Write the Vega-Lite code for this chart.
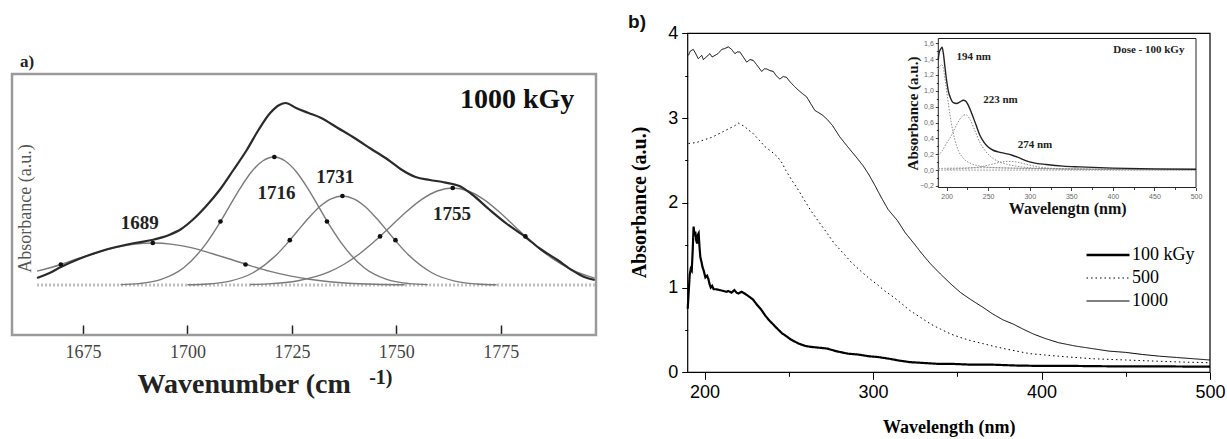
{
"$schema": "https://vega.github.io/schema/vega-lite/v6.json",
"width": 1227, "height": 439, "autosize": "none", "padding": 0, "background": "white",
"config": {"view": {"stroke": null}, "axis": {"labelFlush": false, "labelOverlap": false, "grid": false}},
"datasets": {
"a_env": [
{"wn":1664,"v":0.07},{"wn":1667,"v":0.12},{"wn":1669.7,"v":0.18},{"wn":1674,"v":0.26},{"wn":1679.4,"v":0.34},{"wn":1684,"v":0.39},{"wn":1687.4,"v":0.42},{"wn":1691.5,"v":0.45},{"wn":1695.6,"v":0.5},{"wn":1698.5,"v":0.56},{"wn":1701.2,"v":0.65},{"wn":1704.5,"v":0.79},{"wn":1707.7,"v":0.95},{"wn":1711,"v":1.15},{"wn":1714.2,"v":1.35},{"wn":1717,"v":1.55},{"wn":1719.8,"v":1.72},{"wn":1722,"v":1.8},{"wn":1723.5,"v":1.82},{"wn":1726,"v":1.77},{"wn":1729,"v":1.72},{"wn":1732,"v":1.67},{"wn":1736,"v":1.57},{"wn":1740,"v":1.47},{"wn":1744,"v":1.36},{"wn":1748.1,"v":1.25},{"wn":1751,"v":1.16},{"wn":1754.6,"v":1.08},{"wn":1758,"v":1.05},{"wn":1761.1,"v":1.03},{"wn":1763.5,"v":1.01},{"wn":1765.1,"v":0.99},{"wn":1768,"v":0.91},{"wn":1772.4,"v":0.75},{"wn":1776.5,"v":0.61},{"wn":1780.9,"v":0.48},{"wn":1784.5,"v":0.36},{"wn":1788.6,"v":0.25},{"wn":1792,"v":0.15},{"wn":1795,"v":0.08},{"wn":1797.5,"v":0.05}
],
"a_comp": [
{"comp":"1689","wn":1664,"v":0.139},{"comp":"1689","wn":1669.7,"v":0.205},{"comp":"1689","wn":1673.1,"v":0.255},{"comp":"1689","wn":1677.8,"v":0.315},{"comp":"1689","wn":1682.45,"v":0.371},{"comp":"1689","wn":1687,"v":0.406},{"comp":"1689","wn":1691.8,"v":0.42},{"comp":"1689","wn":1696.5,"v":0.406},{"comp":"1689","wn":1701.15,"v":0.371},{"comp":"1689","wn":1705.8,"v":0.315},{"comp":"1689","wn":1710.5,"v":0.255},{"comp":"1689","wn":1715,"v":0.194},{"comp":"1689","wn":1719.8,"v":0.136},{"comp":"1689","wn":1724.5,"v":0.091},{"comp":"1689","wn":1729.2,"v":0.057},{"comp":"1689","wn":1734,"v":0.033},{"comp":"1689","wn":1738.5,"v":0.018},{"comp":"1689","wn":1745,"v":0.007},{"comp":"1689","wn":1752,"v":0.002},
{"comp":"1716","wn":1684,"v":0.004},{"comp":"1716","wn":1688.3,"v":0.014},{"comp":"1716","wn":1693.7,"v":0.056},{"comp":"1716","wn":1699.1,"v":0.173},{"comp":"1716","wn":1704.5,"v":0.416},{"comp":"1716","wn":1707.2,"v":0.586},{"comp":"1716","wn":1709.9,"v":0.776},{"comp":"1716","wn":1712.6,"v":0.966},{"comp":"1716","wn":1715.3,"v":1.13},{"comp":"1716","wn":1718,"v":1.24},{"comp":"1716","wn":1720.7,"v":1.28},{"comp":"1716","wn":1723.4,"v":1.24},{"comp":"1716","wn":1726.1,"v":1.13},{"comp":"1716","wn":1728.8,"v":0.966},{"comp":"1716","wn":1731.5,"v":0.776},{"comp":"1716","wn":1734.2,"v":0.586},{"comp":"1716","wn":1736.9,"v":0.416},{"comp":"1716","wn":1742.3,"v":0.173},{"comp":"1716","wn":1747.7,"v":0.056},{"comp":"1716","wn":1753.1,"v":0.014},{"comp":"1716","wn":1757.5,"v":0.004},
{"comp":"1731","wn":1700,"v":0.002},{"comp":"1731","wn":1704.9,"v":0.01},{"comp":"1731","wn":1710.2,"v":0.039},{"comp":"1731","wn":1715.6,"v":0.12},{"comp":"1731","wn":1721,"v":0.289},{"comp":"1731","wn":1723.7,"v":0.409},{"comp":"1731","wn":1726.35,"v":0.54},{"comp":"1731","wn":1729,"v":0.67},{"comp":"1731","wn":1731.7,"v":0.785},{"comp":"1731","wn":1734.4,"v":0.862},{"comp":"1731","wn":1737.1,"v":0.89},{"comp":"1731","wn":1739.8,"v":0.862},{"comp":"1731","wn":1742.5,"v":0.785},{"comp":"1731","wn":1745.2,"v":0.67},{"comp":"1731","wn":1747.85,"v":0.54},{"comp":"1731","wn":1750.5,"v":0.409},{"comp":"1731","wn":1753.2,"v":0.289},{"comp":"1731","wn":1758.6,"v":0.12},{"comp":"1731","wn":1764,"v":0.039},{"comp":"1731","wn":1769.3,"v":0.01},{"comp":"1731","wn":1774,"v":0.002},
{"comp":"1755","wn":1715,"v":0.005},{"comp":"1755","wn":1719.1,"v":0.011},{"comp":"1755","wn":1726.5,"v":0.043},{"comp":"1755","wn":1733.9,"v":0.131},{"comp":"1755","wn":1737.6,"v":0.21},{"comp":"1755","wn":1741.3,"v":0.315},{"comp":"1755","wn":1745,"v":0.444},{"comp":"1755","wn":1748.7,"v":0.588},{"comp":"1755","wn":1752.4,"v":0.732},{"comp":"1755","wn":1756.1,"v":0.856},{"comp":"1755","wn":1759.8,"v":0.94},{"comp":"1755","wn":1763.5,"v":0.97},{"comp":"1755","wn":1767.2,"v":0.94},{"comp":"1755","wn":1770.9,"v":0.856},{"comp":"1755","wn":1774.6,"v":0.732},{"comp":"1755","wn":1778.3,"v":0.588},{"comp":"1755","wn":1782,"v":0.444},{"comp":"1755","wn":1785.7,"v":0.315},{"comp":"1755","wn":1789.4,"v":0.21},{"comp":"1755","wn":1793.1,"v":0.131},{"comp":"1755","wn":1797.5,"v":0.069}
],
"a_dots": [
{"wn":1669.7,"v":0.205},{"wn":1691.7,"v":0.42},{"wn":1713.9,"v":0.205},{"wn":1707.9,"v":0.635},{"wn":1720.8,"v":1.28},{"wn":1733.4,"v":0.635},{"wn":1724.5,"v":0.448},{"wn":1737.1,"v":0.89},{"wn":1749.8,"v":0.448},{"wn":1746.1,"v":0.486},{"wn":1763.5,"v":0.97},{"wn":1780.9,"v":0.486}
],
"a_labels": [
{"label":"1689","wn":1688.6,"v":0.62},{"label":"1716","wn":1721.3,"v":0.92},{"label":"1731","wn":1735.4,"v":1.08},{"label":"1755","wn":1763.3,"v":0.71}
],
"b_main": [
{"dose":"1000","nm":190.5,"v":3.74},{"dose":"1000","nm":191.5,"v":3.79},{"dose":"1000","nm":193.3,"v":3.81},{"dose":"1000","nm":194.5,"v":3.77},{"dose":"1000","nm":196.3,"v":3.7},{"dose":"1000","nm":198.3,"v":3.74},{"dose":"1000","nm":199.3,"v":3.69},{"dose":"1000","nm":201,"v":3.72},{"dose":"1000","nm":203.2,"v":3.76},{"dose":"1000","nm":204.5,"v":3.72},{"dose":"1000","nm":206.2,"v":3.74},{"dose":"1000","nm":208,"v":3.76},{"dose":"1000","nm":210.2,"v":3.81},{"dose":"1000","nm":212,"v":3.82},{"dose":"1000","nm":214.1,"v":3.84},{"dose":"1000","nm":216.1,"v":3.81},{"dose":"1000","nm":218,"v":3.76},{"dose":"1000","nm":219.5,"v":3.78},{"dose":"1000","nm":221,"v":3.78},{"dose":"1000","nm":223,"v":3.72},{"dose":"1000","nm":225,"v":3.66},{"dose":"1000","nm":227,"v":3.69},{"dose":"1000","nm":228.9,"v":3.68},{"dose":"1000","nm":230.9,"v":3.63},{"dose":"1000","nm":233.9,"v":3.55},{"dose":"1000","nm":235.5,"v":3.58},{"dose":"1000","nm":236.9,"v":3.58},{"dose":"1000","nm":238.8,"v":3.56},{"dose":"1000","nm":240.8,"v":3.55},{"dose":"1000","nm":242.5,"v":3.5},{"dose":"1000","nm":244.7,"v":3.46},{"dose":"1000","nm":246.7,"v":3.49},{"dose":"1000","nm":248.7,"v":3.48},{"dose":"1000","nm":250.2,"v":3.44},{"dose":"1000","nm":251.6,"v":3.41},{"dose":"1000","nm":253.5,"v":3.37},{"dose":"1000","nm":255.6,"v":3.33},{"dose":"1000","nm":258,"v":3.29},{"dose":"1000","nm":260.6,"v":3.25},{"dose":"1000","nm":263,"v":3.17},{"dose":"1000","nm":265.5,"v":3.09},{"dose":"1000","nm":268,"v":3.06},{"dose":"1000","nm":270.3,"v":3.03},{"dose":"1000","nm":273,"v":2.98},{"dose":"1000","nm":276,"v":2.91},{"dose":"1000","nm":280.2,"v":2.78},{"dose":"1000","nm":285,"v":2.66},{"dose":"1000","nm":290,"v":2.54},{"dose":"1000","nm":294,"v":2.44},{"dose":"1000","nm":297.3,"v":2.34},{"dose":"1000","nm":301,"v":2.21},{"dose":"1000","nm":304.7,"v":2.07},{"dose":"1000","nm":309,"v":1.92},{"dose":"1000","nm":314.5,"v":1.79},{"dose":"1000","nm":319,"v":1.65},{"dose":"1000","nm":324.3,"v":1.52},{"dose":"1000","nm":329,"v":1.4},{"dose":"1000","nm":334.1,"v":1.28},{"dose":"1000","nm":340,"v":1.16},{"dose":"1000","nm":346.3,"v":1.04},{"dose":"1000","nm":352,"v":0.94},{"dose":"1000","nm":358.6,"v":0.85},{"dose":"1000","nm":365,"v":0.77},{"dose":"1000","nm":370.9,"v":0.69},{"dose":"1000","nm":377,"v":0.62},{"dose":"1000","nm":383.1,"v":0.57},{"dose":"1000","nm":389,"v":0.51},{"dose":"1000","nm":395.4,"v":0.45},{"dose":"1000","nm":402,"v":0.4},{"dose":"1000","nm":410,"v":0.35},{"dose":"1000","nm":420,"v":0.31},{"dose":"1000","nm":430,"v":0.28},{"dose":"1000","nm":440,"v":0.25},{"dose":"1000","nm":450,"v":0.235},{"dose":"1000","nm":460,"v":0.21},{"dose":"1000","nm":470,"v":0.19},{"dose":"1000","nm":480,"v":0.175},{"dose":"1000","nm":490,"v":0.16},{"dose":"1000","nm":500,"v":0.145},
{"dose":"500","nm":190.5,"v":2.7},{"dose":"500","nm":195,"v":2.71},{"dose":"500","nm":199.3,"v":2.74},{"dose":"500","nm":204,"v":2.77},{"dose":"500","nm":209.1,"v":2.82},{"dose":"500","nm":214,"v":2.87},{"dose":"500","nm":218,"v":2.91},{"dose":"500","nm":220.1,"v":2.94},{"dose":"500","nm":222,"v":2.92},{"dose":"500","nm":223.8,"v":2.9},{"dose":"500","nm":226,"v":2.86},{"dose":"500","nm":228.7,"v":2.82},{"dose":"500","nm":232,"v":2.75},{"dose":"500","nm":236,"v":2.66},{"dose":"500","nm":240,"v":2.6},{"dose":"500","nm":243.4,"v":2.54},{"dose":"500","nm":246,"v":2.47},{"dose":"500","nm":248.3,"v":2.38},{"dose":"500","nm":252,"v":2.26},{"dose":"500","nm":255.7,"v":2.15},{"dose":"500","nm":259,"v":2.04},{"dose":"500","nm":263,"v":1.91},{"dose":"500","nm":268,"v":1.77},{"dose":"500","nm":272.8,"v":1.64},{"dose":"500","nm":277,"v":1.52},{"dose":"500","nm":282.6,"v":1.4},{"dose":"500","nm":287,"v":1.3},{"dose":"500","nm":292.4,"v":1.2},{"dose":"500","nm":297,"v":1.12},{"dose":"500","nm":302.2,"v":1.04},{"dose":"500","nm":307,"v":0.96},{"dose":"500","nm":312,"v":0.89},{"dose":"500","nm":317,"v":0.81},{"dose":"500","nm":321.8,"v":0.73},{"dose":"500","nm":328,"v":0.65},{"dose":"500","nm":334.1,"v":0.57},{"dose":"500","nm":340,"v":0.51},{"dose":"500","nm":346.3,"v":0.45},{"dose":"500","nm":352,"v":0.41},{"dose":"500","nm":358.6,"v":0.37},{"dose":"500","nm":365,"v":0.34},{"dose":"500","nm":370.9,"v":0.31},{"dose":"500","nm":380,"v":0.27},{"dose":"500","nm":393,"v":0.22},{"dose":"500","nm":410,"v":0.19},{"dose":"500","nm":430,"v":0.16},{"dose":"500","nm":450,"v":0.145},{"dose":"500","nm":470,"v":0.13},{"dose":"500","nm":485,"v":0.12},{"dose":"500","nm":500,"v":0.113},
{"dose":"100 kGy","nm":190,"v":0.75},{"dose":"100 kGy","nm":190.6,"v":0.95},{"dose":"100 kGy","nm":191.2,"v":1.15},{"dose":"100 kGy","nm":191.8,"v":1.22},{"dose":"100 kGy","nm":192.4,"v":1.2},{"dose":"100 kGy","nm":193,"v":1.45},{"dose":"100 kGy","nm":193.5,"v":1.72},{"dose":"100 kGy","nm":194,"v":1.62},{"dose":"100 kGy","nm":194.5,"v":1.66},{"dose":"100 kGy","nm":195,"v":1.56},{"dose":"100 kGy","nm":195.6,"v":1.52},{"dose":"100 kGy","nm":196,"v":1.62},{"dose":"100 kGy","nm":196.5,"v":1.64},{"dose":"100 kGy","nm":197,"v":1.48},{"dose":"100 kGy","nm":197.5,"v":1.36},{"dose":"100 kGy","nm":198.2,"v":1.3},{"dose":"100 kGy","nm":198.8,"v":1.24},{"dose":"100 kGy","nm":199.5,"v":1.2},{"dose":"100 kGy","nm":200.5,"v":1.12},{"dose":"100 kGy","nm":201.5,"v":1.14},{"dose":"100 kGy","nm":202.3,"v":1.1},{"dose":"100 kGy","nm":203,"v":1.04},{"dose":"100 kGy","nm":203.7,"v":1.0},{"dose":"100 kGy","nm":204.5,"v":1.02},{"dose":"100 kGy","nm":205.4,"v":0.98},{"dose":"100 kGy","nm":207,"v":0.98},{"dose":"100 kGy","nm":209,"v":0.97},{"dose":"100 kGy","nm":211,"v":0.96},{"dose":"100 kGy","nm":213,"v":0.95},{"dose":"100 kGy","nm":214,"v":0.96},{"dose":"100 kGy","nm":216,"v":0.94},{"dose":"100 kGy","nm":217.7,"v":0.97},{"dose":"100 kGy","nm":219,"v":0.94},{"dose":"100 kGy","nm":220.1,"v":0.93},{"dose":"100 kGy","nm":222,"v":0.95},{"dose":"100 kGy","nm":223.8,"v":0.93},{"dose":"100 kGy","nm":226,"v":0.9},{"dose":"100 kGy","nm":228.7,"v":0.86},{"dose":"100 kGy","nm":231,"v":0.8},{"dose":"100 kGy","nm":233.6,"v":0.74},{"dose":"100 kGy","nm":236,"v":0.67},{"dose":"100 kGy","nm":238.5,"v":0.61},{"dose":"100 kGy","nm":241,"v":0.56},{"dose":"100 kGy","nm":243.4,"v":0.51},{"dose":"100 kGy","nm":246,"v":0.46},{"dose":"100 kGy","nm":248.3,"v":0.43},{"dose":"100 kGy","nm":251,"v":0.39},{"dose":"100 kGy","nm":255.7,"v":0.34},{"dose":"100 kGy","nm":260,"v":0.31},{"dose":"100 kGy","nm":263,"v":0.3},{"dose":"100 kGy","nm":268,"v":0.29},{"dose":"100 kGy","nm":272.8,"v":0.28},{"dose":"100 kGy","nm":278,"v":0.25},{"dose":"100 kGy","nm":285,"v":0.22},{"dose":"100 kGy","nm":291,"v":0.21},{"dose":"100 kGy","nm":297.3,"v":0.19},{"dose":"100 kGy","nm":303,"v":0.18},{"dose":"100 kGy","nm":309.6,"v":0.16},{"dose":"100 kGy","nm":315,"v":0.14},{"dose":"100 kGy","nm":321.8,"v":0.12},{"dose":"100 kGy","nm":330,"v":0.11},{"dose":"100 kGy","nm":338,"v":0.1},{"dose":"100 kGy","nm":346.3,"v":0.1},{"dose":"100 kGy","nm":358,"v":0.09},{"dose":"100 kGy","nm":370.9,"v":0.09},{"dose":"100 kGy","nm":385,"v":0.08},{"dose":"100 kGy","nm":400,"v":0.075},{"dose":"100 kGy","nm":420,"v":0.075},{"dose":"100 kGy","nm":444,"v":0.07},{"dose":"100 kGy","nm":470,"v":0.07},{"dose":"100 kGy","nm":500,"v":0.066}
],
"inset_env": [
{"nm":190,"v":1.4},{"nm":191,"v":1.48},{"nm":193,"v":1.53},{"nm":194.5,"v":1.55},{"nm":196,"v":1.48},{"nm":198,"v":1.3},{"nm":200,"v":1.13},{"nm":202,"v":1.0},{"nm":205,"v":0.9},{"nm":208,"v":0.85},{"nm":212,"v":0.84},{"nm":216,"v":0.86},{"nm":220,"v":0.88},{"nm":223,"v":0.87},{"nm":226,"v":0.82},{"nm":230,"v":0.72},{"nm":235,"v":0.58},{"nm":240,"v":0.44},{"nm":245,"v":0.35},{"nm":250,"v":0.29},{"nm":256,"v":0.25},{"nm":262,"v":0.23},{"nm":270,"v":0.21},{"nm":278,"v":0.19},{"nm":286,"v":0.16},{"nm":295,"v":0.12},{"nm":305,"v":0.09},{"nm":320,"v":0.07},{"nm":340,"v":0.05},{"nm":360,"v":0.04},{"nm":400,"v":0.025},{"nm":450,"v":0.015},{"nm":500,"v":0.01}
],
"inset_comp": [
{"comp":"c194","nm":190,"v":1.27},{"comp":"c194","nm":192,"v":1.31},{"comp":"c194","nm":194,"v":1.33},{"comp":"c194","nm":196,"v":1.29},{"comp":"c194","nm":198,"v":1.15},{"comp":"c194","nm":201,"v":0.92},{"comp":"c194","nm":204,"v":0.7},{"comp":"c194","nm":207,"v":0.52},{"comp":"c194","nm":210,"v":0.38},{"comp":"c194","nm":214,"v":0.25},{"comp":"c194","nm":220,"v":0.15},{"comp":"c194","nm":230,"v":0.08},{"comp":"c194","nm":240,"v":0.05},{"comp":"c194","nm":260,"v":0.03},{"comp":"c194","nm":300,"v":0.02},{"comp":"c194","nm":400,"v":0.01},{"comp":"c194","nm":500,"v":0.01},
{"comp":"c223","nm":190,"v":0.18},{"comp":"c223","nm":195,"v":0.25},{"comp":"c223","nm":200,"v":0.34},{"comp":"c223","nm":206,"v":0.44},{"comp":"c223","nm":212,"v":0.57},{"comp":"c223","nm":218,"v":0.67},{"comp":"c223","nm":223,"v":0.7},{"comp":"c223","nm":228,"v":0.64},{"comp":"c223","nm":234,"v":0.5},{"comp":"c223","nm":240,"v":0.35},{"comp":"c223","nm":246,"v":0.25},{"comp":"c223","nm":252,"v":0.18},{"comp":"c223","nm":262,"v":0.11},{"comp":"c223","nm":272,"v":0.075},{"comp":"c223","nm":290,"v":0.04},{"comp":"c223","nm":320,"v":0.02},{"comp":"c223","nm":400,"v":0.01},{"comp":"c223","nm":500,"v":0.005},
{"comp":"c274","nm":200,"v":0.01},{"comp":"c274","nm":220,"v":0.02},{"comp":"c274","nm":240,"v":0.04},{"comp":"c274","nm":255,"v":0.075},{"comp":"c274","nm":265,"v":0.1},{"comp":"c274","nm":275,"v":0.11},{"comp":"c274","nm":285,"v":0.1},{"comp":"c274","nm":295,"v":0.075},{"comp":"c274","nm":310,"v":0.04},{"comp":"c274","nm":330,"v":0.02},{"comp":"c274","nm":360,"v":0.01},{"comp":"c274","nm":400,"v":0.005},{"comp":"c274","nm":500,"v":0.003},
{"comp":"base","nm":190,"v":0.0},{"comp":"base","nm":500,"v":0.0},
{"comp":"base2","nm":190,"v":0.02},{"comp":"base2","nm":250,"v":0.03},{"comp":"base2","nm":300,"v":0.02},{"comp":"base2","nm":400,"v":0.01},{"comp":"base2","nm":500,"v":0.005}
],
"inset_labels": [
{"label":"194 nm","nm":232.6,"v":1.43},{"label":"223 nm","nm":264.8,"v":0.89},{"label":"274 nm","nm":306.3,"v":0.32},{"label":"Dose - 100 kGy","nm":443.2,"v":1.51}
]
},
"layer": [
{
"layer": [
{"data": {"values": [{}]},
 "mark": {"type": "rect", "fill": "transparent", "stroke": "#9a9a9a", "strokeWidth": 2.5},
 "encoding": {"x": {"datum": 1658, "type": "quantitative"}, "x2": {"datum": 1797.8}, "y": {"datum": -0.5, "type": "quantitative"}, "y2": {"datum": 2.11}}},
{"data": {"values": [{"wn": 1664, "v": 0}, {"wn": 1797.5, "v": 0}]},
 "mark": {"type": "line", "color": "#bdbdbd", "strokeWidth": 3, "strokeDash": [2, 2]},
 "encoding": {"x": {"field": "wn", "type": "quantitative"}, "y": {"field": "v", "type": "quantitative"}}},
{"data": {"name": "a_comp"},
 "mark": {"type": "line", "color": "#7a7a7a", "strokeWidth": 1.4, "interpolate": "monotone"},
 "encoding": {"x": {"field": "wn", "type": "quantitative"}, "y": {"field": "v", "type": "quantitative"}, "detail": {"field": "comp"}}},
{"data": {"name": "a_env"},
 "mark": {"type": "line", "color": "#2a2a2a", "strokeWidth": 2.2, "interpolate": "monotone"},
 "encoding": {
  "x": {"field": "wn", "type": "quantitative",
   "scale": {"domain": [1658, 1797.8], "range": [12, 596], "nice": false, "zero": false},
   "axis": {"orient": "bottom", "offset": -104, "values": [1675, 1700, 1725, 1750, 1775], "format": "d", "domain": false, "tickSize": -10, "tickColor": "#222", "tickWidth": 1.5,
    "labelFont": "Liberation Serif", "labelFontSize": 18, "labelColor": "#444", "labelPadding": 18,
    "title": "Wavenumber (cm", "titleFont": "Liberation Serif", "titleFontSize": 28, "titleFontWeight": "bold", "titleColor": "#222",
    "titleAlign": "left", "titleX": 137, "titleY": 57, "titleBaseline": "alphabetic"}},
  "y": {"field": "v", "type": "quantitative",
   "scale": {"domain": [-0.5, 2.11], "range": [335, 74], "nice": false, "zero": false},
   "axis": {"orient": "left", "offset": -12, "ticks": false, "labels": false, "domain": false,
    "title": "Absorbance (a.u.)", "titleFont": "Liberation Serif", "titleFontSize": 18, "titleFontWeight": "normal", "titleColor": "#555",
    "titleX": 13, "titleY": 208, "titleAngle": -90, "titleAlign": "center", "titleBaseline": "middle"}}}},
{"data": {"name": "a_dots"},
 "mark": {"type": "circle", "color": "#111", "size": 22, "opacity": 1},
 "encoding": {"x": {"field": "wn", "type": "quantitative"}, "y": {"field": "v", "type": "quantitative"}}},
{"data": {"name": "a_labels"},
 "mark": {"type": "text", "font": "Liberation Serif", "fontSize": 19, "fontWeight": "bold", "color": "#222", "baseline": "middle", "align": "center"},
 "encoding": {"x": {"field": "wn", "type": "quantitative"}, "y": {"field": "v", "type": "quantitative"}, "text": {"field": "label"}}},
{"data": {"values": [{"label": "1000 kGy", "wn": 1778.9, "v": 1.85}]},
 "mark": {"type": "text", "font": "Liberation Serif", "fontSize": 28, "fontWeight": "bold", "color": "#111", "baseline": "middle", "align": "center"},
 "encoding": {"x": {"field": "wn", "type": "quantitative"}, "y": {"field": "v", "type": "quantitative"}, "text": {"field": "label"}}},
{"data": {"values": [{"label": "a)", "wn": 1659.9, "v": 2.23}]},
 "mark": {"type": "text", "font": "Liberation Serif", "fontSize": 17, "fontWeight": "bold", "color": "#222", "baseline": "middle", "align": "left"},
 "encoding": {"x": {"field": "wn", "type": "quantitative"}, "y": {"field": "v", "type": "quantitative"}, "text": {"field": "label"}}},
{"data": {"values": [{"label": "-1)", "wn": 1743.5, "v": -0.99}]},
 "mark": {"type": "text", "font": "Liberation Serif", "fontSize": 20, "fontWeight": "bold", "color": "#222", "baseline": "alphabetic", "align": "left"},
 "encoding": {"x": {"field": "wn", "type": "quantitative"}, "y": {"field": "v", "type": "quantitative"}, "text": {"field": "label"}}}
]
},
{
"layer": [
{"data": {"values": [{}]},
 "mark": {"type": "rect", "fill": "transparent", "stroke": "#000", "strokeWidth": 1.2},
 "encoding": {"x": {"datum": 190, "type": "quantitative"}, "x2": {"datum": 500}, "y": {"datum": 0, "type": "quantitative"}, "y2": {"datum": 4}}},
{"data": {"name": "b_main"},
 "mark": {"type": "line", "color": "#000"},
 "encoding": {
  "x": {"field": "nm", "type": "quantitative",
   "scale": {"domain": [190, 500], "range": [687.7, 1210], "nice": false, "zero": false},
   "axis": {"orient": "bottom", "offset": -66.7, "values": [200, 300, 400, 500], "format": "d", "domain": false, "tickSize": 7, "tickColor": "#000", "tickWidth": 1,
    "labelFont": "Liberation Sans", "labelFontSize": 18, "labelColor": "#000", "labelPadding": 4,
    "title": "Wavelength (nm)", "titleFont": "Liberation Serif", "titleFontSize": 18, "titleFontWeight": "bold", "titleColor": "#000", "titleY": 55, "titleBaseline": "middle"}},
  "y": {"field": "v", "type": "quantitative",
   "scale": {"domain": [0, 4], "range": [372.3, 33.3], "nice": false, "zero": false},
   "axis": {"orient": "left", "offset": -687.7, "values": [0, 1, 2, 3, 4], "format": "d", "domain": false, "tickSize": 6, "tickColor": "#000",
    "labelFont": "Liberation Sans", "labelFontSize": 18, "labelColor": "#000", "labelPadding": 4,
    "title": "Absorbance (a.u.)", "titleFont": "Liberation Serif", "titleFontSize": 20, "titleFontWeight": "bold", "titleColor": "#000",
    "titleX": -48, "titleY": 202, "titleAngle": -90, "titleAlign": "center", "titleBaseline": "middle"}},
  "strokeDash": {"field": "dose", "type": "nominal",
   "scale": {"domain": ["100 kGy", "500", "1000"], "range": [[1, 0], [1.5, 3], [1, 0]]},
   "legend": {"orient": "none", "legendX": 1085, "legendY": 243.5, "title": null, "symbolType": "stroke", "symbolSize": 1849,
    "symbolStrokeColor": "#000", "symbolStrokeWidth": 1.1, "clipHeight": 23, "rowPadding": 0, "padding": 0,
    "labelFont": "Liberation Serif", "labelFontSize": 18, "labelColor": "#000", "labelOffset": 2,
    "encode": {
     "symbols": {"update": {"strokeWidth": {"signal": "datum.value === '100 kGy' ? 2.6 : 1.1"}, "size": {"value": 1849}, "x": {"value": 23}}},
     "labels": {"update": {"x": {"value": 47}}}}}},
  "strokeWidth": {"condition": {"test": "datum.dose === '100 kGy'", "value": 2.2}, "value": 1}}},
{"data": {"values": [{"label": "b)", "nm": 154.6, "v": 4.13}]},
 "mark": {"type": "text", "font": "Liberation Sans", "fontSize": 19, "fontWeight": "bold", "color": "#111", "baseline": "middle", "align": "left"},
 "encoding": {"x": {"field": "nm", "type": "quantitative"}, "y": {"field": "v", "type": "quantitative"}, "text": {"field": "label"}}}
]
},
{
"data": {"name": "b_main"},
"mark": {"type": "point", "opacity": 0},
"encoding": {
 "x": {"field": "nm", "type": "quantitative",
  "scale": {"domain": [190, 500], "range": [687.7, 1210], "nice": false, "zero": false},
  "axis": {"orient": "bottom", "offset": -66.7, "values": [250, 350, 450], "domain": false, "labels": false, "tickSize": 4, "tickColor": "#000", "title": null}},
 "y": {"field": "v", "type": "quantitative",
  "scale": {"domain": [0, 4], "range": [372.3, 33.3], "nice": false, "zero": false},
  "axis": {"orient": "left", "offset": -687.7, "values": [0.5, 1.5, 2.5, 3.5], "domain": false, "labels": false, "tickSize": 3, "tickColor": "#000", "title": null}}}
},
{
"layer": [
{"data": {"values": [{}]},
 "mark": {"type": "rect", "fill": "transparent", "stroke": "#222", "strokeWidth": 1},
 "encoding": {"x": {"datum": 190, "type": "quantitative"}, "x2": {"datum": 500}, "y": {"datum": -0.22, "type": "quantitative"}, "y2": {"datum": 1.66}}},
{"data": {"name": "inset_comp"},
 "mark": {"type": "line", "color": "#8a8a8a", "strokeWidth": 1, "strokeDash": [1.5, 1.5], "interpolate": "monotone"},
 "encoding": {"x": {"field": "nm", "type": "quantitative"}, "y": {"field": "v", "type": "quantitative"}, "detail": {"field": "comp"}}},
{"data": {"name": "inset_env"},
 "mark": {"type": "line", "color": "#222", "strokeWidth": 1.4, "interpolate": "monotone"},
 "encoding": {
  "x": {"field": "nm", "type": "quantitative",
   "scale": {"domain": [190, 500], "range": [938.3, 1196], "nice": false, "zero": false},
   "axis": {"orient": "bottom", "offset": -251.5, "values": [200, 250, 300, 350, 400, 450, 500], "format": "d", "domain": false, "tickSize": 3, "tickColor": "#444",
    "labelFont": "Liberation Sans", "labelFontSize": 7, "labelColor": "#666", "labelPadding": 2,
    "title": "Wavelengtn (nm)", "titleFont": "Liberation Serif", "titleFontSize": 16, "titleFontWeight": "bold", "titleColor": "#111", "titleY": 21, "titleBaseline": "middle"}},
  "y": {"field": "v", "type": "quantitative",
   "scale": {"domain": [-0.22, 1.66], "range": [187.5, 38.5], "nice": false, "zero": false},
   "axis": {"orient": "left", "offset": -938.3, "values": [-0.2, 0, 0.2, 0.4, 0.6, 0.8, 1.0, 1.2, 1.4, 1.6], "format": ".1f", "labelExpr": "replace(datum.label, '.', ',')",
    "domain": false, "tickSize": 3, "tickColor": "#444",
    "labelFont": "Liberation Sans", "labelFontSize": 7, "labelColor": "#666", "labelPadding": 2,
    "title": "Absorbance (a.u.)", "titleFont": "Liberation Serif", "titleFontSize": 15, "titleFontWeight": "bold", "titleColor": "#111",
    "titleX": -26, "titleY": 113, "titleAngle": -90, "titleAlign": "center", "titleBaseline": "middle"}}}},
{"data": {"name": "inset_labels"},
 "mark": {"type": "text", "font": "Liberation Serif", "fontSize": 11, "fontWeight": "bold", "color": "#222", "baseline": "middle", "align": "center"},
 "encoding": {"x": {"field": "nm", "type": "quantitative"}, "y": {"field": "v", "type": "quantitative"}, "text": {"field": "label"}}}
]
},
{
"data": {"name": "inset_env"},
"mark": {"type": "point", "opacity": 0},
"encoding": {
 "x": {"field": "nm", "type": "quantitative",
  "scale": {"domain": [190, 500], "range": [938.3, 1196], "nice": false, "zero": false},
  "axis": {"orient": "bottom", "offset": -251.5, "values": [225, 275, 325, 375, 425, 475], "domain": false, "labels": false, "tickSize": 2, "tickColor": "#444", "title": null}},
 "y": {"field": "v", "type": "quantitative",
  "scale": {"domain": [-0.22, 1.66], "range": [187.5, 38.5], "nice": false, "zero": false},
  "axis": {"orient": "left", "offset": -938.3, "values": [-0.1, 0.1, 0.3, 0.5, 0.7, 0.9, 1.1, 1.3, 1.5], "domain": false, "labels": false, "tickSize": 2, "tickColor": "#444", "title": null}}}
}
],
"resolve": {"scale": {"x": "independent", "y": "independent", "strokeDash": "independent"}}
}
